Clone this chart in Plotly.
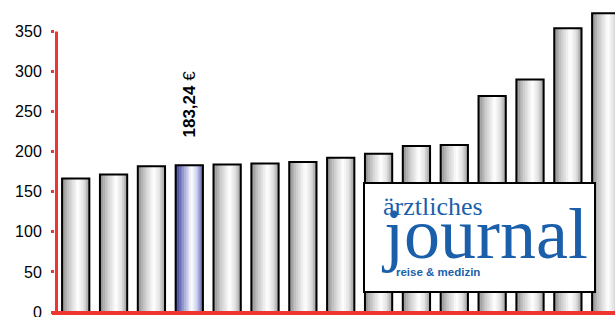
import plotly.graph_objects as go

# ---- data ----
categories = [f"A{i}" for i in range(1, 16)]
values = [166.5, 171.5, 181.8, 183.24, 183.9, 185.2, 187.2, 192.6,
          197.6, 207.1, 208.4, 269.4, 290.2, 354.0, 372.8]
highlight_index = 3
highlight_label = "183,24"
tick_values = [0, 50, 100, 150, 200, 250, 300, 350]

# ---- style ----
RED = "#ee3530"
BLUE_LOGO = "#1b5fab"
N_STRIPES = 16
BAR_W = 0.72
PLOT_H = 312       # plot area height in px
PLOT_W = 560
PX_PER_UNIT = 0.8014
YMAX = PLOT_H / PX_PER_UNIT

grey_stops = [(0.0, (138, 138, 138)), (0.25, (200, 200, 200)), (0.58, (255, 255, 255)),
              (0.8, (225, 225, 225)), (1.0, (150, 150, 150))]
blue_stops = [(0.0, (46, 51, 136)), (0.25, (138, 144, 204)), (0.58, (255, 255, 255)),
              (0.8, (197, 200, 232)), (1.0, (74, 81, 165))]


def interp(stops, t):
    for (t0, c0), (t1, c1) in zip(stops[:-1], stops[1:]):
        if t0 <= t <= t1:
            f = (t - t0) / (t1 - t0) if t1 > t0 else 0
            c = [round(a + (b - a) * f) for a, b in zip(c0, c1)]
            return f"rgb({c[0]},{c[1]},{c[2]})"
    c = stops[-1][1]
    return f"rgb({c[0]},{c[1]},{c[2]})"


def px(X):  # screen x -> paper
    return (X - 55) / PLOT_W


def py(Y):  # screen y -> paper
    return (312 - Y) / PLOT_H


x_idx = list(range(len(values)))
fig = go.Figure()
sw = BAR_W / N_STRIPES
for i in range(N_STRIPES):
    t = (i + 0.5) / N_STRIPES
    colors = [interp(blue_stops if k == highlight_index else grey_stops, t) for k in x_idx]
    fig.add_trace(go.Bar(
        x=x_idx, y=values, width=sw * 1.25, offset=-BAR_W / 2 + i * sw,
        marker=dict(color=colors, line=dict(width=0)),
        hoverinfo="skip", showlegend=False))
# outline
fig.add_trace(go.Bar(
    x=x_idx, y=values, width=BAR_W, offset=-BAR_W / 2,
    marker=dict(color="rgba(0,0,0,0)", line=dict(color="black", width=2)),
    hovertext=categories, showlegend=False))

fig.update_layout(
    width=615, height=317,
    margin=dict(l=55, r=0, t=0, b=317 - PLOT_H),
    barmode="overlay",
    paper_bgcolor="white", plot_bgcolor="white",
    xaxis=dict(range=[-0.547, 14.245], showticklabels=False, showgrid=False,
               zeroline=False, showline=False, ticks=""),
    yaxis=dict(range=[0, YMAX], tickvals=tick_values, ticks="outside", ticklen=3,
               tickwidth=3, tickcolor=RED, showgrid=False, zeroline=False, showline=False,
               ticklabelstandoff=6, automargin=False, ticklabeloverflow="allow",
               tickfont=dict(family="Liberation Sans, Arial, sans-serif", size=16, color="black")),
    font=dict(family="Liberation Sans, Arial, sans-serif"),
)

# axis lines
fig.add_shape(type="line", xref="paper", yref="paper", x0=px(56.5), x1=px(56.5),
              y0=0, y1=350 / YMAX, line=dict(color=RED, width=3), layer="above")
fig.add_shape(type="line", xref="paper", yref="paper", x0=px(52), x1=1.02,
              y0=py(313), y1=py(313), line=dict(color=RED, width=4), layer="above")

# price annotation
fig.add_annotation(x=highlight_index, y=values[highlight_index] + 76, xref="x", yref="y",
                   text=f"<b>{highlight_label}</b> €", textangle=-90, showarrow=False,
                   font=dict(size=17, color="black", family="Liberation Sans, Arial, sans-serif"),
                   xanchor="center", yanchor="middle")

# logo box
fig.add_shape(type="rect", xref="paper", yref="paper", x0=px(364), x1=px(595),
              y0=py(292), y1=py(183), fillcolor="white", line=dict(color="black", width=2),
              layer="above")
fig.add_annotation(xref="paper", yref="paper", x=px(381), y=py(206),
                   text="ärztliches", showarrow=False, xanchor="left", yanchor="middle",
                   font=dict(family="Liberation Serif, Times New Roman, serif", size=26, color=BLUE_LOGO))
fig.add_annotation(xref="paper", yref="paper", x=px(379), y=py(234),
                   text="journal", showarrow=False, xanchor="left", yanchor="middle",
                   font=dict(family="Liberation Serif, Times New Roman, serif", size=72, color=BLUE_LOGO))
fig.add_annotation(xref="paper", yref="paper", x=px(394), y=py(272),
                   text="<b>reise & medizin</b>", showarrow=False, xanchor="left", yanchor="middle",
                   font=dict(family="Liberation Sans, Arial, sans-serif", size=11.5, color=BLUE_LOGO))

fig.write_html(
    "out.html",
    config={"displayModeBar": False},
    post_script="document.body.style.margin='0';document.body.style.overflow='hidden';",
)
